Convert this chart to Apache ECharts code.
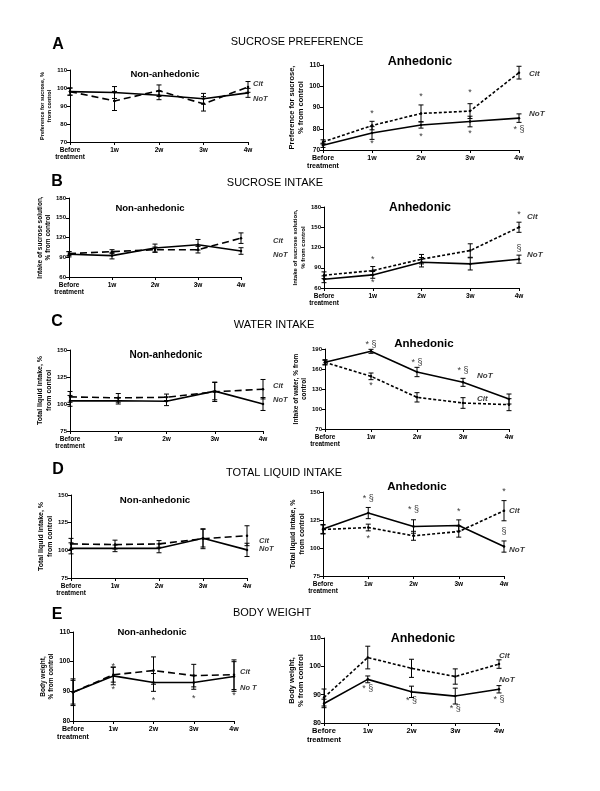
<!DOCTYPE html>
<html><head><meta charset="utf-8">
<script src="https://cdn.jsdelivr.net/npm/echarts@6/dist/echarts.min.js"></script>
<style>html,body{margin:0;padding:0;background:#fff}#c{width:600px;height:791px}</style>
</head><body><div id="c"></div>
<script>
const categories = ['Before\ntreatment', '1w', '2w', '3w', '4w'];

// A: sucrose preference
const aNonNoT = [98, 97.5, 96, 94, 97.3];
const aNonNoTErr = [2, 3.3, 2.5, 3, 2.5];
const aNonCit = [98, 92.8, 98.5, 91.2, 100.6];
const aNonCitErr = [2, 5.3, 3.2, 4, 3];
const aAnhNoT = [72.2, 78, 81.8, 83.4, 85];
const aAnhNoTErr = [1, 3, 1.5, 2.5, 2];
const aAnhCit = [73.8, 81.5, 87.2, 88.3, 106.4];
const aAnhCitErr = [1, 2, 4, 3.5, 3];
const aAnhMarks = [[1, 87.2, '*'], [1, 73, '*'], [2, 95, '*'], [2, 76.3, '*'], [3, 97, '*'], [3, 77.6, '*'], [4, 79.6, '* §']];

// B: sucrose intake
const bNonNoT = [94.5, 92.5, 104, 109, 99.5];
const bNonNoTErr = [4, 5, 6, 8, 5];
const bNonCit = [95.5, 98.5, 101.5, 101.5, 119];
const bNonCitErr = [3, 3, 4, 5, 8];
const bAnhNoT = [72.9, 79.4, 98.2, 95.7, 102.7];
const bAnhNoTErr = [5, 5, 7, 9, 6];
const bAnhCit = [78.9, 85.8, 102.7, 115.5, 150];
const bAnhCitErr = [5, 6, 7, 10, 7.5];
const bAnhMarks = [[1, 102.7, '*'], [1, 68, '*'], [4, 169.6, '*'], [4, 119, '§']];

// C: water intake
const cNonNoT = [102.9, 103, 102.5, 111.9, 100];
const cNonNoTErr = [5, 3, 4, 8, 6];
const cNonCit = [106.6, 105.7, 106.2, 111.3, 113.7];
const cNonCitErr = [5, 4, 3, 9, 9];
const cAnhNoT = [170, 186.5, 155.5, 140, 115];
const cAnhNoTErr = [3, 3, 7, 6, 7.5];
const cAnhCit = [170, 149, 117.5, 109, 106.5];
const cAnhCitErr = [4, 5, 7, 8, 9];
const cAnhMarks = [[1, 197, '* §'], [1, 135, '*'], [2, 170, '* §'], [3, 157.5, '* §']];

// D: total liquid intake
const dNonNoT = [101.8, 101.8, 101.8, 111, 100.4];
const dNonNoTErr = [5, 3, 4, 8, 6];
const dNonCit = [105.8, 105.2, 105.8, 110.5, 113.2];
const dNonCitErr = [5, 4, 3, 9, 9];
const dAnhNoT = [117, 131.2, 119.2, 120.1, 101.3];
const dAnhNoTErr = [4, 5, 6, 5, 5];
const dAnhCit = [116.5, 118.3, 110.9, 114.7, 133.3];
const dAnhCitErr = [4, 3, 4, 5, 9];
const dAnhMarks = [[1, 144.6, '* §'], [1, 108.8, '*'], [2, 134.8, '* §'], [3, 132.7, '*'], [4, 150.6, '*'], [4, 114.7, '§']];

// E: body weight
const eNonNoT = [89.7, 95.2, 93, 93, 95];
const eNonNoTErr = [4.5, 3, 3, 2.3, 5];
const eNonCit = [89.7, 95.6, 97, 95.3, 95.6];
const eNonCitErr = [4, 2.5, 4.6, 3.8, 5];
const eNonMarks = [[1, 98.5, '*'], [1, 90.5, '*'], [2, 86.8, '*'], [3, 87.5, '*'], [4, 88.5, '*']];
const eAnhNoT = [86.9, 95.4, 91, 89.5, 91.9];
const eAnhNoTErr = [1.5, 1.2, 2, 2.8, 1.3];
const eAnhCit = [89, 103.1, 99.3, 96.4, 100.8];
const eAnhCitErr = [3, 4, 3.2, 2.7, 1.5];
const eAnhMarks = [[1, 92, '* §'], [2, 88, '* §'], [3, 85, '* §'], [4, 88.3, '* §']];

// curve end labels: [text, value]
const aNonLabels = [['Cit', 102.2], ['NoT', 94]];
const aAnhLabels = [['Cit', 106], ['NoT', 87.2]];
const bNonLabels = [['Cit', 114.6], ['NoT', 93.4]];
const bAnhLabels = [['Cit', 165.2], ['NoT', 108.9]];
const cNonLabels = [['Cit', 116.5], ['NoT', 103.5]];
const cAnhLabels = [['NoT', 149.5], ['Cit', 115]];
const dNonLabels = [['Cit', 108.8], ['NoT', 101]];
const dAnhLabels = [['Cit', 133.6], ['NoT', 98.3]];
const eNonLabels = [['Cit', 96.5], ['No T', 91.1]];
const eAnhLabels = [['Cit', 103.6], ['NoT', 95.2]];

const sectionTitles = ['SUCROSE PREFERENCE', 'SUCROSE INTAKE', 'WATER INTAKE', 'TOTAL LIQUID INTAKE', 'BODY WEIGHT'];
const sectionLetters = ['A', 'B', 'C', 'D', 'E'];

const FONT = 'Liberation Sans, Arial, Helvetica, sans-serif';

const panels = [
  {rect:[70,70,178,72], y:[70,110,10], yName:'Preference for sucrose, %\nfrom control', gap:16, nameSize:5.5, tick:6,
   noT:aNonNoT, noTErr:aNonNoTErr, cit:aNonCit, citErr:aNonCitErr, dash:[7,4], marks:[], labels:aNonLabels, labelIdx:4, labelDx:5,
   title:'Non-anhedonic', tx:165, ty:74, tsize:9.5},
  {rect:[323,65,196,85], y:[70,110,10], yName:'Preference for sucrose,\n% from control', gap:14, nameSize:7.5, tick:6.5,
   noT:aAnhNoT, noTErr:aAnhNoTErr, cit:aAnhCit, citErr:aAnhCitErr, dash:[3,2], marks:aAnhMarks, labels:aAnhLabels, labelIdx:4, labelDx:10,
   title:'Anhedonic', tx:420, ty:62, tsize:12.5},
  {rect:[69,198,172,79], y:[60,180,30], yName:'Intake of sucrose solution,\n% from control', gap:15, nameSize:6.5, tick:6,
   noT:bNonNoT, noTErr:bNonNoTErr, cit:bNonCit, citErr:bNonCitErr, dash:[7,4], marks:[], labels:bNonLabels, labelIdx:4, labelDx:32,
   title:'Non-anhedonic', tx:150, ty:208, tsize:9.5},
  {rect:[324,207,195,81], y:[60,180,30], yName:'Intake of sucrose solution,\n% from control', gap:15, nameSize:6, tick:6,
   noT:bAnhNoT, noTErr:bAnhNoTErr, cit:bAnhCit, citErr:bAnhCitErr, dash:[3,2], marks:bAnhMarks, labels:bAnhLabels, labelIdx:4, labelDx:8,
   title:'Anhedonic', tx:420, ty:208, tsize:12},
  {rect:[70,350,193,81], y:[75,150,25], yName:'Total liquid intake, %\nfrom control', gap:15, nameSize:7, tick:6,
   noT:cNonNoT, noTErr:cNonNoTErr, cit:cNonCit, citErr:cNonCitErr, dash:[7,4], marks:[], labels:cNonLabels, labelIdx:4, labelDx:10,
   title:'Non-anhedonic', tx:166, ty:355, tsize:10},
  {rect:[325,349,184,80], y:[70,190,30], yName:'Intake of water, % from\ncontrol', gap:15, nameSize:6.5, tick:6,
   noT:cAnhNoT, noTErr:cAnhNoTErr, cit:cAnhCit, citErr:cAnhCitErr, dash:[3,2], marks:cAnhMarks, labels:cAnhLabels, labelIdx:3, labelDx:14,
   title:'Anhedonic', tx:424, ty:344, tsize:11.5},
  {rect:[71,495,176,83], y:[75,150,25], yName:'Total liquid intake, %\nfrom control', gap:15, nameSize:7, tick:6,
   noT:dNonNoT, noTErr:dNonNoTErr, cit:dNonCit, citErr:dNonCitErr, dash:[7,4], marks:[], labels:dNonLabels, labelIdx:4, labelDx:12,
   title:'Non-anhedonic', tx:155, ty:500, tsize:9.7},
  {rect:[323,492,181,84], y:[75,150,25], yName:'Total liquid intake, %\nfrom control', gap:15, nameSize:7, tick:6,
   noT:dAnhNoT, noTErr:dAnhNoTErr, cit:dAnhCit, citErr:dAnhCitErr, dash:[3,2], marks:dAnhMarks, labels:dAnhLabels, labelIdx:4, labelDx:5,
   title:'Anhedonic', tx:417, ty:487, tsize:11.5},
  {rect:[73,632,161,89], y:[80,110,10], yName:'Body weight,\n% from control', gap:16, nameSize:6.5, tick:6.5,
   noT:eNonNoT, noTErr:eNonNoTErr, cit:eNonCit, citErr:eNonCitErr, dash:[7,4], marks:eNonMarks, labels:eNonLabels, labelIdx:4, labelDx:6,
   title:'Non-anhedonic', tx:152, ty:632, tsize:9.5},
  {rect:[324,638,175,85], y:[80,110,10], yName:'Body weight,\n% from control', gap:15, nameSize:7.5, tick:7,
   noT:eAnhNoT, noTErr:eAnhNoTErr, cit:eAnhCit, citErr:eAnhCitErr, dash:[3,2], marks:eAnhMarks, labels:eAnhLabels, labelIdx:4, labelDx:0,
   title:'Anhedonic', tx:423, ty:639, tsize:12.5}
];

const sectionPos = [[297,42,58,45],[275,183,57,182],[274,325,57,322],[284,473,58,470],[272,613,57,615]];

const grid = [], xAxis = [], yAxis = [], series = [], graphic = [];

function errBar(params, api) {
  const x = api.value(0), y = api.value(1), e = api.value(2);
  const t = api.coord([x, y + e]), b = api.coord([x, y - e]);
  const w = 2.5, st = {stroke:'#000', lineWidth:1};
  return {type:'group', children:[
    {type:'line', shape:{x1:t[0], y1:t[1], x2:b[0], y2:b[1]}, style:st},
    {type:'line', shape:{x1:t[0]-w, y1:t[1], x2:t[0]+w, y2:t[1]}, style:st},
    {type:'line', shape:{x1:b[0]-w, y1:b[1], x2:b[0]+w, y2:b[1]}, style:st}
  ]};
}

panels.forEach((p, i) => {
  grid.push({left:p.rect[0], top:p.rect[1], width:p.rect[2], height:p.rect[3], containLabel:false, outerBoundsMode:'none'});
  xAxis.push({type:'category', gridIndex:i, data:categories, boundaryGap:false,
    axisLine:{lineStyle:{color:'#000', width:1}}, axisTick:{length:3, lineStyle:{color:'#000'}},
    axisLabel:{color:'#000', fontFamily:FONT, fontWeight:'bold', fontSize:p.tick + 0.5, lineHeight:p.tick + 1.5, margin:4, interval:0},
    splitLine:{show:false}});
  yAxis.push({type:'value', gridIndex:i, min:p.y[0], max:p.y[1], interval:p.y[2],
    axisLine:{show:true, lineStyle:{color:'#000', width:1}}, axisTick:{show:true, length:3, lineStyle:{color:'#000'}},
    axisLabel:{color:'#000', fontFamily:FONT, fontWeight:'bold', fontSize:p.tick, margin:3},
    splitLine:{show:false},
    name:p.yName, nameLocation:'middle', nameRotate:90, nameGap:p.gap,
    nameTextStyle:{color:'#000', fontFamily:FONT, fontWeight:'bold', fontSize:p.nameSize, lineHeight:p.nameSize + 1.5}});
  const base = {xAxisIndex:i, yAxisIndex:i, animation:false, silent:true};
  series.push(Object.assign({type:'line', data:p.noT, symbol:'circle', symbolSize:2.5,
    itemStyle:{color:'#000'}, lineStyle:{color:'#000', width:1.6, type:'solid'}}, base));
  series.push(Object.assign({type:'line', data:p.cit, symbol:'circle', symbolSize:2.5,
    itemStyle:{color:'#000'}, lineStyle:{color:'#000', width:1.6, type:p.dash}}, base));
  const eb = p.noT.map((v, k) => [k, v, p.noTErr[k]]).concat(p.cit.map((v, k) => [k, v, p.citErr[k]]));
  series.push(Object.assign({type:'custom', renderItem:errBar, data:eb, clip:false, z:3}, base));
  if (p.marks.length) {
    series.push(Object.assign({type:'scatter', clip:false, symbolSize:1, itemStyle:{color:'rgba(0,0,0,0)'},
      data:p.marks.map(m => ({name:m[2], value:[m[0], m[1]]})),
      label:{show:true, position:'inside', formatter:q => q.name, color:'#000', fontFamily:FONT, fontSize:9}}, base));
  }
  series.push(Object.assign({type:'scatter', clip:false, symbolSize:1, itemStyle:{color:'rgba(0,0,0,0)'},
    data:p.labels.map(m => ({name:m[0], value:[p.labelIdx, m[1]]})),
    label:{show:true, position:'inside', align:'left', offset:[p.labelDx, 0], formatter:q => q.name, color:'#000',
      fontFamily:FONT, fontSize:p.tsize > 11 ? 8 : 7.5, fontWeight:'bold', fontStyle:'italic'}}, base));
  graphic.push({type:'text', x:p.tx, y:p.ty, silent:true,
    style:{text:p.title, fill:'#000', font:'bold ' + p.tsize + 'px ' + FONT, textAlign:'center', textVerticalAlign:'middle'}});
});

sectionTitles.forEach((t, k) => {
  const s = sectionPos[k];
  graphic.push({type:'text', x:s[0], y:s[1], silent:true,
    style:{text:t, fill:'#000', font:'11px ' + FONT, textAlign:'center', textVerticalAlign:'middle'}});
  graphic.push({type:'text', x:s[2], y:s[3], silent:true,
    style:{text:sectionLetters[k], fill:'#000', font:'bold 16px ' + FONT, textAlign:'center', textVerticalAlign:'middle'}});
});

const chart = echarts.init(document.getElementById('c'), null, {renderer:'canvas'});
chart.setOption({backgroundColor:'#fff', animation:false, grid, xAxis, yAxis, series, graphic});
</script></body></html>
